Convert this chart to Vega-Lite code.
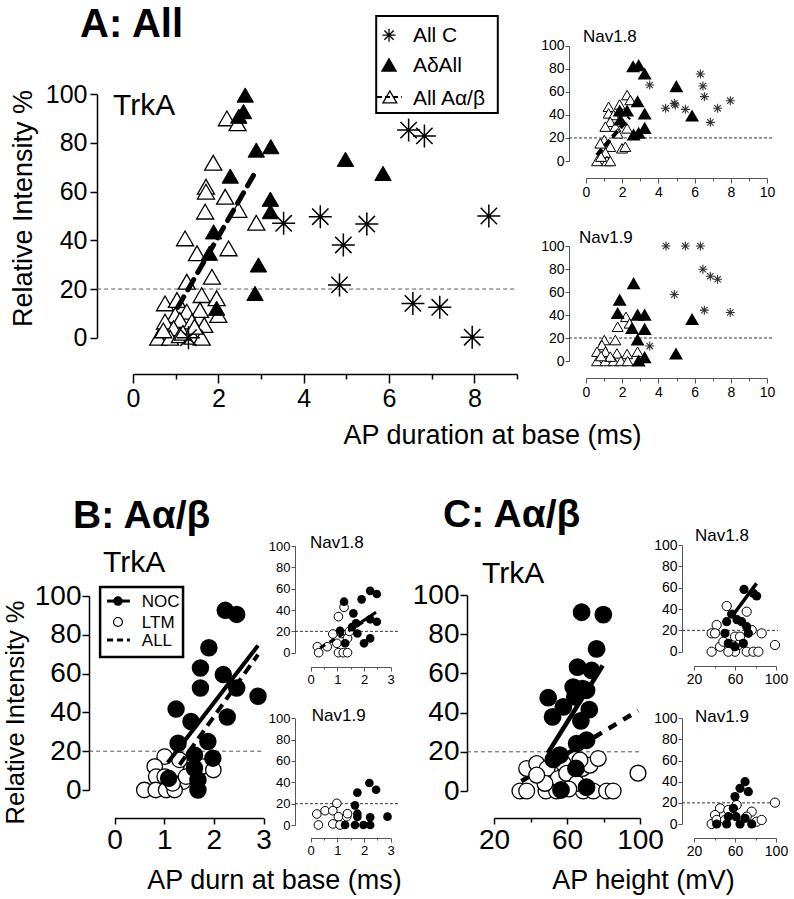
{
"$schema": "https://vega.github.io/schema/vega-lite/v6.json",
"padding": 0,
"autosize": {"type": "none"},
"background": "white",
"width": 794,
"height": 899,
"config": {
  "view": {"stroke": null},
  "axis": {"grid": false, "labelFont": "Liberation Sans", "titleFont": "Liberation Sans", "labelColor": "black", "titleColor": "black", "domainColor": "black", "tickColor": "black", "titleFontWeight": "normal", "labelFlush": false, "labelOverlap": false, "format": "d"},
  "text": {"font": "Liberation Sans", "color": "black"}
},
"resolve": {"scale": {"x": "independent", "y": "independent"}, "axis": {"x": "independent", "y": "independent"}},
"datasets": {
  "A": [
    {"x":2.63,"y":99.7,"g":"Ad"},{"x":2.59,"y":92.9,"g":"Ad"},{"x":2.48,"y":91,"g":"Ad"},{"x":2.89,"y":77.1,"g":"Ad"},{"x":3.23,"y":78.5,"g":"Ad"},{"x":2.28,"y":66.4,"g":"Ad"},{"x":4.98,"y":73.3,"g":"Ad"},{"x":5.86,"y":67.5,"g":"Ad"},{"x":3.22,"y":56.9,"g":"Ad"},{"x":3.22,"y":51.8,"g":"Ad"},{"x":1.89,"y":43.5,"g":"Ad"},{"x":1.79,"y":34.7,"g":"Ad"},{"x":2.94,"y":29.9,"g":"Ad"},{"x":2.86,"y":18.2,"g":"Ad"},{"x":1.96,"y":12.1,"g":"Ad"},
    {"x":2.2,"y":90.1,"g":"Ab"},{"x":2.45,"y":88.1,"g":"Ab"},{"x":1.88,"y":71.9,"g":"Ab"},{"x":1.71,"y":62,"g":"Ab"},{"x":1.71,"y":60,"g":"Ab"},{"x":2.16,"y":57.9,"g":"Ab"},{"x":2.47,"y":52.5,"g":"Ab"},{"x":1.69,"y":51.8,"g":"Ab"},{"x":2.89,"y":47.2,"g":"Ab"},{"x":1.22,"y":40.8,"g":"Ab"},{"x":1.5,"y":34.7,"g":"Ab"},{"x":2.24,"y":36.7,"g":"Ab"},{"x":1.26,"y":23,"g":"Ab"},{"x":1.85,"y":25,"g":"Ab"},{"x":1.61,"y":17.5,"g":"Ab"},{"x":1.96,"y":16.2,"g":"Ab"},{"x":0.75,"y":14.1,"g":"Ab"},{"x":1.03,"y":15.5,"g":"Ab"},{"x":1.57,"y":11.4,"g":"Ab"},{"x":1.26,"y":10.7,"g":"Ab"},{"x":2.0,"y":9.3,"g":"Ab"},{"x":0.99,"y":9.3,"g":"Ab"},{"x":0.75,"y":6.6,"g":"Ab"},{"x":1.1,"y":7.3,"g":"Ab"},{"x":1.38,"y":6.6,"g":"Ab"},{"x":1.67,"y":5.2,"g":"Ab"},{"x":0.95,"y":3.9,"g":"Ab"},{"x":0.59,"y":0,"g":"Ab"},{"x":0.87,"y":0,"g":"Ab"},{"x":1.1,"y":1,"g":"Ab"},{"x":1.4,"y":0.4,"g":"Ab"},{"x":1.61,"y":0,"g":"Ab"},{"x":0.71,"y":3,"g":"Ab"},{"x":1.17,"y":2,"g":"Ab"},{"x":1.44,"y":4.5,"g":"Ab"},
    {"x":3.53,"y":47,"g":"C"},{"x":4.39,"y":49.7,"g":"C"},{"x":5.48,"y":46.7,"g":"C"},{"x":4.93,"y":38.1,"g":"C"},{"x":4.84,"y":21.7,"g":"C"},{"x":6.46,"y":85.3,"g":"C"},{"x":6.83,"y":82.9,"g":"C"},{"x":8.34,"y":50,"g":"C"},{"x":6.56,"y":14.1,"g":"C"},{"x":7.19,"y":12.5,"g":"C"},{"x":7.95,"y":0.2,"g":"C"},{"x":1.3,"y":0,"g":"C"}
  ],
  "Aline": [{"x":1.05,"y":12.5},{"x":2.9,"y":69}],
  "A18": [
    {"x":2.6,"y":81.8,"g":"Ad"},{"x":2.91,"y":82.7,"g":"Ad"},{"x":3.24,"y":75.4,"g":"Ad"},{"x":4.99,"y":64.5,"g":"Ad"},{"x":5.86,"y":39,"g":"Ad"},{"x":1.86,"y":43.4,"g":"Ad"},{"x":2.27,"y":43.4,"g":"Ad"},{"x":2.85,"y":51.4,"g":"Ad"},{"x":3.24,"y":40.8,"g":"Ad"},{"x":3.24,"y":28.3,"g":"Ad"},{"x":2.91,"y":24,"g":"Ad"},{"x":2.63,"y":22.5,"g":"Ad"},{"x":1.9,"y":35.5,"g":"Ad"},
    {"x":1.25,"y":47,"g":"Ab"},{"x":1.25,"y":41.3,"g":"Ab"},{"x":2.27,"y":57.2,"g":"Ab"},{"x":2.45,"y":52.9,"g":"Ab"},{"x":1.86,"y":49,"g":"Ab"},{"x":1.53,"y":39.9,"g":"Ab"},{"x":1.34,"y":34,"g":"Ab"},{"x":1.07,"y":29.8,"g":"Ab"},{"x":1.62,"y":29.8,"g":"Ab"},{"x":2.27,"y":28.3,"g":"Ab"},{"x":1.75,"y":24,"g":"Ab"},{"x":1.01,"y":18.2,"g":"Ab"},{"x":0.79,"y":15.3,"g":"Ab"},{"x":1.34,"y":12.4,"g":"Ab"},{"x":1.99,"y":11,"g":"Ab"},{"x":2.17,"y":12.4,"g":"Ab"},{"x":1.07,"y":7.2,"g":"Ab"},{"x":0.61,"y":0,"g":"Ab"},{"x":1.16,"y":0,"g":"Ab"},{"x":1.34,"y":0,"g":"Ab"},{"x":0.83,"y":3.8,"g":"Ab"},
    {"x":3.52,"y":65.9,"g":"C"},{"x":4.4,"y":45.7,"g":"C"},{"x":4.88,"y":50,"g":"C"},{"x":4.93,"y":48.6,"g":"C"},{"x":5.49,"y":44.8,"g":"C"},{"x":6.32,"y":75.4,"g":"C"},{"x":6.46,"y":65,"g":"C"},{"x":6.54,"y":55.8,"g":"C"},{"x":6.87,"y":33.5,"g":"C"},{"x":7.27,"y":45.7,"g":"C"},{"x":7.97,"y":52.3,"g":"C"}
  ],
  "A18line": [{"x":0.6,"y":5},{"x":2.4,"y":38}],
  "A19": [
    {"x":4.42,"y":100,"g":"C"},{"x":5.49,"y":100,"g":"C"},{"x":6.32,"y":100,"g":"C"},{"x":6.46,"y":79.8,"g":"C"},{"x":6.87,"y":73.7,"g":"C"},{"x":7.27,"y":71.1,"g":"C"},{"x":4.88,"y":57.8,"g":"C"},{"x":6.54,"y":44.2,"g":"C"},{"x":7.97,"y":42.2,"g":"C"},{"x":3.52,"y":13,"g":"C"},
    {"x":2.63,"y":67.3,"g":"Ad"},{"x":1.86,"y":52.9,"g":"Ad"},{"x":1.75,"y":41.3,"g":"Ad"},{"x":2.85,"y":39.9,"g":"Ad"},{"x":3.24,"y":39.9,"g":"Ad"},{"x":2.54,"y":28.3,"g":"Ad"},{"x":3.24,"y":27.5,"g":"Ad"},{"x":2.85,"y":18.2,"g":"Ad"},{"x":4.97,"y":6.1,"g":"Ad"},{"x":5.86,"y":36.1,"g":"Ad"},{"x":3.24,"y":2.9,"g":"Ad"},{"x":2.91,"y":0,"g":"Ad"},
    {"x":2.21,"y":38.4,"g":"Ab"},{"x":2.41,"y":32.7,"g":"Ab"},{"x":1.75,"y":29.8,"g":"Ab"},{"x":2.85,"y":8.1,"g":"Ab"},{"x":1.01,"y":18.2,"g":"Ab"},{"x":0.88,"y":13.9,"g":"Ab"},{"x":1.62,"y":18.2,"g":"Ab"},{"x":0.61,"y":8.1,"g":"Ab"},{"x":1.07,"y":8.1,"g":"Ab"},{"x":1.71,"y":6.6,"g":"Ab"},{"x":2.27,"y":6.1,"g":"Ab"},{"x":0.61,"y":0,"g":"Ab"},{"x":1.07,"y":0,"g":"Ab"},{"x":1.53,"y":0,"g":"Ab"},{"x":1.93,"y":0,"g":"Ab"},{"x":2.3,"y":0,"g":"Ab"},{"x":1.34,"y":3.8,"g":"Ab"},{"x":0.83,"y":4.3,"g":"Ab"}
  ],
  "B": [
    {"x":2.23,"y":92.6,"g":"NOC"},{"x":2.46,"y":90.5,"g":"NOC"},{"x":1.9,"y":73.3,"g":"NOC"},{"x":1.73,"y":62.9,"g":"NOC"},{"x":1.73,"y":52.6,"g":"NOC"},{"x":2.19,"y":59.5,"g":"NOC"},{"x":2.46,"y":52.6,"g":"NOC"},{"x":2.89,"y":48.3,"g":"NOC"},{"x":1.24,"y":41.7,"g":"NOC"},{"x":1.54,"y":35.3,"g":"NOC"},{"x":2.27,"y":37.6,"g":"NOC"},{"x":1.28,"y":24.1,"g":"NOC"},{"x":1.88,"y":25,"g":"NOC"},{"x":1.98,"y":16.4,"g":"NOC"},{"x":1.61,"y":18.1,"g":"NOC"},{"x":1.61,"y":11.2,"g":"NOC"},{"x":1.68,"y":5.2,"g":"NOC"},{"x":1.68,"y":0,"g":"NOC"},{"x":1.09,"y":6,"g":"NOC"},
    {"x":1.01,"y":17.2,"g":"LTM"},{"x":0.81,"y":12.1,"g":"LTM"},{"x":1.31,"y":15.5,"g":"LTM"},{"x":1.54,"y":10.3,"g":"LTM"},{"x":1.78,"y":12.1,"g":"LTM"},{"x":1.99,"y":10.3,"g":"LTM"},{"x":0.84,"y":6.9,"g":"LTM"},{"x":1.01,"y":6.9,"g":"LTM"},{"x":1.38,"y":4.3,"g":"LTM"},{"x":0.6,"y":0,"g":"LTM"},{"x":0.83,"y":0,"g":"LTM"},{"x":1.04,"y":0,"g":"LTM"},{"x":1.21,"y":0,"g":"LTM"},{"x":1.17,"y":3.4,"g":"LTM"},{"x":1.44,"y":6.9,"g":"LTM"}
  ],
  "Bline": [{"x":1.07,"y":14,"g":"NOC"},{"x":2.89,"y":74.5,"g":"NOC"},{"x":1.31,"y":13,"g":"ALL"},{"x":2.89,"y":69.8,"g":"ALL"}],
  "B18": [
    {"x":1.25,"y":47.8,"g":"NOC"},{"x":1.91,"y":50,"g":"NOC"},{"x":2.23,"y":58,"g":"NOC"},{"x":2.48,"y":55,"g":"NOC"},{"x":1.6,"y":36.9,"g":"NOC"},{"x":1.7,"y":27.5,"g":"NOC"},{"x":1.1,"y":20.6,"g":"NOC"},{"x":1.75,"y":18,"g":"NOC"},{"x":2.0,"y":8.8,"g":"NOC"},{"x":2.23,"y":13.4,"g":"NOC"},{"x":1.29,"y":8.8,"g":"NOC"},{"x":2.48,"y":29,"g":"NOC"},{"x":2.23,"y":31.3,"g":"NOC"},{"x":1.55,"y":24,"g":"NOC"},
    {"x":1.04,"y":33.8,"g":"LTM"},{"x":1.25,"y":42.5,"g":"LTM"},{"x":0.83,"y":17.5,"g":"LTM"},{"x":1.16,"y":18,"g":"LTM"},{"x":0.25,"y":5.6,"g":"LTM"},{"x":0.62,"y":5.6,"g":"LTM"},{"x":0.3,"y":0,"g":"LTM"},{"x":1.04,"y":0,"g":"LTM"},{"x":1.22,"y":0,"g":"LTM"},{"x":1.38,"y":0,"g":"LTM"},{"x":1.38,"y":13.4,"g":"LTM"},{"x":0.98,"y":8.8,"g":"LTM"},{"x":1.45,"y":20,"g":"LTM"}
  ],
  "B18line": [{"x":0.35,"y":4.5,"g":"ALL"},{"x":2.45,"y":36,"g":"ALL"},{"x":1.5,"y":22,"g":"NOC"},{"x":2.45,"y":38,"g":"NOC"}],
  "B19": [
    {"x":2.2,"y":39.4,"g":"NOC"},{"x":2.45,"y":33,"g":"NOC"},{"x":1.75,"y":30.3,"g":"NOC"},{"x":1.66,"y":18.4,"g":"NOC"},{"x":1.75,"y":10.6,"g":"NOC"},{"x":2.88,"y":7.8,"g":"NOC"},{"x":1.29,"y":0,"g":"NOC"},{"x":1.66,"y":0,"g":"NOC"},{"x":1.98,"y":0,"g":"NOC"},{"x":2.23,"y":0,"g":"NOC"},{"x":2.23,"y":7.2,"g":"NOC"},{"x":1.75,"y":7.5,"g":"NOC"},
    {"x":0.98,"y":20.3,"g":"LTM"},{"x":0.23,"y":10.3,"g":"LTM"},{"x":0.54,"y":13.4,"g":"LTM"},{"x":0.83,"y":13.4,"g":"LTM"},{"x":1.04,"y":7.8,"g":"LTM"},{"x":1.35,"y":7.8,"g":"LTM"},{"x":0.29,"y":0,"g":"LTM"},{"x":0.83,"y":1,"g":"LTM"},{"x":1.1,"y":0,"g":"LTM"},{"x":1.38,"y":10.6,"g":"LTM"}
  ],
  "C": [
    {"x":68,"y":91.2,"g":"NOC"},{"x":79.9,"y":90,"g":"NOC"},{"x":76.2,"y":72.5,"g":"NOC"},{"x":65.8,"y":63.2,"g":"NOC"},{"x":73.5,"y":61.5,"g":"NOC"},{"x":63.4,"y":53,"g":"NOC"},{"x":68.5,"y":52.2,"g":"NOC"},{"x":70.7,"y":51.4,"g":"NOC"},{"x":64.3,"y":48,"g":"NOC"},{"x":49.7,"y":47.6,"g":"NOC"},{"x":58,"y":42.9,"g":"NOC"},{"x":52.1,"y":37.8,"g":"NOC"},{"x":72.2,"y":41.5,"g":"NOC"},{"x":67.6,"y":35.8,"g":"NOC"},{"x":65.3,"y":24.2,"g":"NOC"},{"x":70.7,"y":25.9,"g":"NOC"},{"x":56.1,"y":18.3,"g":"NOC"},{"x":52.5,"y":16.1,"g":"NOC"},{"x":64.9,"y":11.5,"g":"NOC"},{"x":70.7,"y":1.9,"g":"NOC"},{"x":56.7,"y":0.5,"g":"NOC"},
    {"x":34.2,"y":0,"g":"LTM"},{"x":37.9,"y":0,"g":"LTM"},{"x":48.5,"y":0,"g":"LTM"},{"x":54.3,"y":0,"g":"LTM"},{"x":68.9,"y":0,"g":"LTM"},{"x":74.4,"y":0,"g":"LTM"},{"x":81.7,"y":0,"g":"LTM"},{"x":85.3,"y":0,"g":"LTM"},{"x":37.9,"y":11.5,"g":"LTM"},{"x":43.4,"y":14,"g":"LTM"},{"x":49.1,"y":11.5,"g":"LTM"},{"x":55.2,"y":6.4,"g":"LTM"},{"x":58,"y":14,"g":"LTM"},{"x":47.9,"y":3.9,"g":"LTM"},{"x":43.4,"y":8.1,"g":"LTM"},{"x":59.8,"y":9,"g":"LTM"},{"x":65.3,"y":3.9,"g":"LTM"},{"x":68.5,"y":11.5,"g":"LTM"},{"x":72.6,"y":13.2,"g":"LTM"},{"x":77.1,"y":16.6,"g":"LTM"},{"x":67.1,"y":15.8,"g":"LTM"},{"x":98.9,"y":9.1,"g":"LTM"},{"x":61,"y":1,"g":"LTM"}
  ],
  "Cline": [{"x":49.5,"y":19.4,"g":"NOC"},{"x":79.6,"y":64,"g":"NOC"},{"x":35,"y":5,"g":"ALL"},{"x":99,"y":41,"g":"ALL"}],
  "C18": [
    {"x":68.8,"y":58.4,"g":"NOC"},{"x":77.9,"y":54.7,"g":"NOC"},{"x":81.1,"y":52.2,"g":"NOC"},{"x":56.7,"y":35.3,"g":"NOC"},{"x":51.9,"y":28.1,"g":"NOC"},{"x":66.5,"y":28.1,"g":"NOC"},{"x":71.4,"y":23.4,"g":"NOC"},{"x":73,"y":17.2,"g":"NOC"},{"x":68.1,"y":7.8,"g":"NOC"},{"x":53.5,"y":7.8,"g":"NOC"},{"x":60,"y":4.7,"g":"NOC"},{"x":50.2,"y":17.2,"g":"NOC"},{"x":62,"y":30,"g":"NOC"},
    {"x":51.9,"y":42.8,"g":"LTM"},{"x":71.4,"y":37.5,"g":"LTM"},{"x":42.1,"y":25,"g":"LTM"},{"x":37.2,"y":17.2,"g":"LTM"},{"x":40.5,"y":17.2,"g":"LTM"},{"x":86,"y":17.2,"g":"LTM"},{"x":99,"y":6.3,"g":"LTM"},{"x":37.2,"y":0,"g":"LTM"},{"x":45.4,"y":4.7,"g":"LTM"},{"x":48.6,"y":9.4,"g":"LTM"},{"x":60,"y":0,"g":"LTM"},{"x":71.4,"y":0,"g":"LTM"},{"x":77.9,"y":0,"g":"LTM"},{"x":82.8,"y":0,"g":"LTM"},{"x":60,"y":14.1,"g":"LTM"},{"x":64.9,"y":14.1,"g":"LTM"},{"x":76.3,"y":20.3,"g":"LTM"},{"x":53.5,"y":0,"g":"LTM"},{"x":63.3,"y":6.3,"g":"LTM"}
  ],
  "C18line": [{"x":57,"y":33},{"x":81,"y":64}],
  "C19": [
    {"x":69.8,"y":40,"g":"NOC"},{"x":64.9,"y":33.8,"g":"NOC"},{"x":73,"y":30.6,"g":"NOC"},{"x":60,"y":25.9,"g":"NOC"},{"x":58.4,"y":14.8,"g":"NOC"},{"x":53.5,"y":6.9,"g":"NOC"},{"x":42.1,"y":0,"g":"NOC"},{"x":51.9,"y":0,"g":"NOC"},{"x":64.9,"y":0,"g":"NOC"},{"x":76.3,"y":0,"g":"NOC"},{"x":69.8,"y":5.4,"g":"NOC"},{"x":61,"y":6.9,"g":"NOC"},
    {"x":99,"y":20.2,"g":"LTM"},{"x":45.4,"y":14.8,"g":"LTM"},{"x":40.5,"y":8.5,"g":"LTM"},{"x":37.2,"y":0,"g":"LTM"},{"x":42.1,"y":3.8,"g":"LTM"},{"x":53.5,"y":13.2,"g":"LTM"},{"x":61.6,"y":18,"g":"LTM"},{"x":76.3,"y":11.7,"g":"LTM"},{"x":81.1,"y":2.2,"g":"LTM"},{"x":86,"y":3.8,"g":"LTM"},{"x":50.2,"y":3.8,"g":"LTM"},{"x":71.4,"y":6.9,"g":"LTM"}
  ]
},
"layer": [
  {"layer": [
    {"data": {"values": [{}]}, "mark": {"type": "rule", "stroke": "#555", "strokeDash": [4, 3], "strokeWidth": 1},
     "encoding": {
       "x": {"datum": -0.84, "type": "quantitative", "scale": {"domain": [0, 9], "range": [133, 517], "nice": false, "zero": false},
             "axis": {"title": "AP duration at base (ms)", "orient": "bottom", "offset": -525, "values": [0,1,2,3,4,5,6,7,8,9], "labelExpr": "datum.value % 2 ? '' : datum.label", "tickSize": {"condition": {"test": "datum.value % 2 === 0", "value": 9}, "value": 5}, "labelFontSize": 25, "labelPadding": 3, "domainWidth": 1.5, "tickWidth": 1.5, "titleFontSize": 27, "titleX": 492, "titleY": 69, "titleAlign": "center", "titleBaseline": "alphabetic"}},
       "x2": {"datum": 9},
       "y": {"datum": 20, "type": "quantitative", "scale": {"domain": [0, 100], "range": [337.7, 94.3], "nice": false, "zero": false},
             "axis": {"title": "Relative Intensity %", "orient": "left", "offset": -97, "values": [0,20,40,60,80,100], "tickSize": 7, "labelFontSize": 25, "labelPadding": 3, "domainWidth": 1.5, "tickWidth": 1.5, "titleFontSize": 27, "titleX": -65.5, "titleY": 208, "titleAngle": 270, "titleAlign": "center", "titleBaseline": "alphabetic"}}}},
    {"data": {"name": "A"}, "transform": [{"filter": "datum.g === 'Ab'"}], "mark": {"type": "point", "shape": "triangle-up", "filled": true, "fill": "white", "stroke": "black", "strokeWidth": 1.3, "size": 290, "opacity": 1},
     "encoding": {"x": {"field": "x", "type": "quantitative"}, "y": {"field": "y", "type": "quantitative"}}},
    {"data": {"name": "A"}, "transform": [{"filter": "datum.g === 'Ad'"}], "mark": {"type": "point", "shape": "triangle-up", "filled": true, "fill": "black", "stroke": "black", "strokeWidth": 1, "size": 270, "opacity": 1},
     "encoding": {"x": {"field": "x", "type": "quantitative"}, "y": {"field": "y", "type": "quantitative"}}},
    {"data": {"name": "A"}, "transform": [{"filter": "datum.g === 'C'"}], "mark": {"type": "point", "shape": "M0,-1L0,1M-1,0L1,0M-0.71,-0.71L0.71,0.71M-0.71,0.71L0.71,-0.71", "filled": false, "stroke": "black", "strokeWidth": 1.5, "size": 529, "opacity": 1},
     "encoding": {"x": {"field": "x", "type": "quantitative"}, "y": {"field": "y", "type": "quantitative"}}},
    {"data": {"name": "Aline"}, "mark": {"type": "line", "color": "black", "strokeWidth": 5, "strokeDash": [12, 8], "strokeCap": "round"},
     "encoding": {"x": {"field": "x", "type": "quantitative"}, "y": {"field": "y", "type": "quantitative"}}},
    {"data": {"values": [{}]}, "mark": {"type": "rect", "fill": "white", "stroke": "black", "strokeWidth": 2},
     "encoding": {"x": {"datum": 5.7, "type": "quantitative"}, "x2": {"datum": 8.55}, "y": {"datum": 132.2, "type": "quantitative"}, "y2": {"datum": 92.3}}},
    {"data": {"values": [{}]}, "mark": {"type": "point", "shape": "M0,-1L0,1M-1,0L1,0M-0.71,-0.71L0.71,0.71M-0.71,0.71L0.71,-0.71", "filled": false, "stroke": "black", "strokeWidth": 1.3, "size": 169, "opacity": 1},
     "encoding": {"x": {"datum": 6.0, "type": "quantitative"}, "y": {"datum": 124.3, "type": "quantitative"}}},
    {"data": {"values": [{}]}, "mark": {"type": "point", "shape": "triangle-up", "filled": true, "fill": "black", "stroke": "black", "size": 170, "opacity": 1},
     "encoding": {"x": {"datum": 6.0, "type": "quantitative"}, "y": {"datum": 112, "type": "quantitative"}}},
    {"data": {"values": [{}]}, "mark": {"type": "point", "shape": "triangle-up", "filled": true, "fill": "white", "stroke": "black", "strokeWidth": 1.3, "size": 190, "opacity": 1},
     "encoding": {"x": {"datum": 6.02, "type": "quantitative"}, "y": {"datum": 98.9, "type": "quantitative"}}},
    {"data": {"values": [{}]}, "mark": {"type": "rule", "stroke": "black", "strokeWidth": 2, "strokeDash": [5, 3]},
     "encoding": {"x": {"datum": 5.72, "type": "quantitative"}, "x2": {"datum": 6.3}, "y": {"datum": 98.9, "type": "quantitative"}}},
    {"data": {"values": [{}]}, "mark": {"type": "text", "text": "All C", "fontSize": 21, "align": "left", "baseline": "alphabetic"},
     "encoding": {"x": {"datum": 6.56, "type": "quantitative"}, "y": {"datum": 121.3, "type": "quantitative"}}},
    {"data": {"values": [{}]}, "mark": {"type": "text", "text": "AδAll", "fontSize": 21, "align": "left", "baseline": "alphabetic"},
     "encoding": {"x": {"datum": 6.56, "type": "quantitative"}, "y": {"datum": 109, "type": "quantitative"}}},
    {"data": {"values": [{}]}, "mark": {"type": "text", "text": "All Aα/β", "fontSize": 21, "align": "left", "baseline": "alphabetic"},
     "encoding": {"x": {"datum": 6.56, "type": "quantitative"}, "y": {"datum": 95.8, "type": "quantitative"}}},
    {"data": {"values": [{}]}, "mark": {"type": "text", "text": "A: All", "fontSize": 40, "fontWeight": "bold", "align": "left", "baseline": "alphabetic"},
     "encoding": {"x": {"datum": -1.24, "type": "quantitative"}, "y": {"datum": 123.5, "type": "quantitative"}}},
    {"data": {"values": [{}]}, "mark": {"type": "text", "text": "TrkA", "fontSize": 30, "align": "left", "baseline": "alphabetic"},
     "encoding": {"x": {"datum": -0.47, "type": "quantitative"}, "y": {"datum": 91.5, "type": "quantitative"}}}
  ]},
  {"layer": [
    {"data": {"values": [{}]}, "mark": {"type": "rule", "stroke": "#333", "strokeDash": [3, 2], "strokeWidth": 1},
     "encoding": {
       "x": {"datum": -0.94, "type": "quantitative", "scale": {"domain": [0, 10], "range": [586, 767], "nice": false, "zero": false},
             "axis": {"title": null, "orient": "bottom", "offset": -721, "values": [0,1,2,3,4,5,6,7,8,9,10], "labelExpr": "datum.value % 2 ? '' : datum.label", "tickSize": {"condition": {"test": "datum.value % 2 === 0", "value": 5}, "value": 3}, "labelFontSize": 14, "labelPadding": 2, "domainColor": "#555", "tickColor": "#555"}},
       "x2": {"datum": 10.3},
       "y": {"datum": 20, "type": "quantitative", "scale": {"domain": [0, 100], "range": [161, 45.7], "nice": false, "zero": false},
             "axis": {"title": null, "orient": "left", "offset": -569, "values": [0,20,40,60,80,100], "tickSize": 4, "labelFontSize": 14, "labelPadding": 1, "domainColor": "#555", "tickColor": "#555"}}}},
    {"data": {"name": "A18"}, "transform": [{"filter": "datum.g === 'Ab'"}], "mark": {"type": "point", "shape": "triangle-up", "filled": true, "fill": "white", "stroke": "black", "strokeWidth": 1, "size": 120, "opacity": 1},
     "encoding": {"x": {"field": "x", "type": "quantitative"}, "y": {"field": "y", "type": "quantitative"}}},
    {"data": {"name": "A18"}, "transform": [{"filter": "datum.g === 'Ad'"}], "mark": {"type": "point", "shape": "triangle-up", "filled": true, "fill": "black", "stroke": "black", "size": 110, "opacity": 1},
     "encoding": {"x": {"field": "x", "type": "quantitative"}, "y": {"field": "y", "type": "quantitative"}}},
    {"data": {"name": "A18"}, "transform": [{"filter": "datum.g === 'C'"}], "mark": {"type": "point", "shape": "M0,-1L0,1M-1,0L1,0M-0.71,-0.71L0.71,0.71M-0.71,0.71L0.71,-0.71", "filled": false, "stroke": "#333", "strokeWidth": 1.1, "size": 81, "opacity": 1},
     "encoding": {"x": {"field": "x", "type": "quantitative"}, "y": {"field": "y", "type": "quantitative"}}},
    {"data": {"name": "A18line"}, "mark": {"type": "line", "color": "black", "strokeWidth": 4, "strokeDash": [8, 4]},
     "encoding": {"x": {"field": "x", "type": "quantitative"}, "y": {"field": "y", "type": "quantitative"}}},
    {"data": {"values": [{}]}, "mark": {"type": "text", "text": "Nav1.8", "fontSize": 17, "align": "left", "baseline": "alphabetic"},
     "encoding": {"x": {"datum": -0.17, "type": "quantitative"}, "y": {"datum": 103.2, "type": "quantitative"}}}
  ]},
  {"layer": [
    {"data": {"values": [{}]}, "mark": {"type": "rule", "stroke": "#333", "strokeDash": [3, 2], "strokeWidth": 1},
     "encoding": {
       "x": {"datum": -0.94, "type": "quantitative", "scale": {"domain": [0, 10], "range": [586, 767], "nice": false, "zero": false},
             "axis": {"title": null, "orient": "bottom", "offset": -521, "values": [0,1,2,3,4,5,6,7,8,9,10], "labelExpr": "datum.value % 2 ? '' : datum.label", "tickSize": {"condition": {"test": "datum.value % 2 === 0", "value": 5}, "value": 3}, "labelFontSize": 14, "labelPadding": 2, "domainColor": "#555", "tickColor": "#555"}},
       "x2": {"datum": 10.3},
       "y": {"datum": 20, "type": "quantitative", "scale": {"domain": [0, 100], "range": [361, 246], "nice": false, "zero": false},
             "axis": {"title": null, "orient": "left", "offset": -569, "values": [0,20,40,60,80,100], "tickSize": 4, "labelFontSize": 14, "labelPadding": 1, "domainColor": "#555", "tickColor": "#555"}}}},
    {"data": {"name": "A19"}, "transform": [{"filter": "datum.g === 'Ab'"}], "mark": {"type": "point", "shape": "triangle-up", "filled": true, "fill": "white", "stroke": "black", "strokeWidth": 1, "size": 120, "opacity": 1},
     "encoding": {"x": {"field": "x", "type": "quantitative"}, "y": {"field": "y", "type": "quantitative"}}},
    {"data": {"name": "A19"}, "transform": [{"filter": "datum.g === 'Ad'"}], "mark": {"type": "point", "shape": "triangle-up", "filled": true, "fill": "black", "stroke": "black", "size": 110, "opacity": 1},
     "encoding": {"x": {"field": "x", "type": "quantitative"}, "y": {"field": "y", "type": "quantitative"}}},
    {"data": {"name": "A19"}, "transform": [{"filter": "datum.g === 'C'"}], "mark": {"type": "point", "shape": "M0,-1L0,1M-1,0L1,0M-0.71,-0.71L0.71,0.71M-0.71,0.71L0.71,-0.71", "filled": false, "stroke": "#333", "strokeWidth": 1.1, "size": 81, "opacity": 1},
     "encoding": {"x": {"field": "x", "type": "quantitative"}, "y": {"field": "y", "type": "quantitative"}}},
    {"data": {"values": [{}]}, "mark": {"type": "text", "text": "Nav1.9", "fontSize": 17, "align": "left", "baseline": "alphabetic"},
     "encoding": {"x": {"datum": -0.39, "type": "quantitative"}, "y": {"datum": 102.6, "type": "quantitative"}}}
  ]},
  {"layer": [
    {"data": {"values": [{}]}, "mark": {"type": "rule", "stroke": "#555", "strokeDash": [4, 3], "strokeWidth": 1},
     "encoding": {
       "x": {"datum": -0.51, "type": "quantitative", "scale": {"domain": [0, 3], "range": [114.5, 263.5], "nice": false, "zero": false},
             "axis": {"title": "AP durn at base (ms)", "orient": "bottom", "offset": -81, "values": [0,1,2,3], "tickSize": 6, "labelFontSize": 28, "labelPadding": 2, "domainWidth": 1.5, "tickWidth": 1.5, "titleFontSize": 27, "titleX": 274, "titleY": 70, "titleAlign": "center", "titleBaseline": "alphabetic"}},
       "x2": {"datum": 3},
       "y": {"datum": 20, "type": "quantitative", "scale": {"domain": [0, 100], "range": [790, 596], "nice": false, "zero": false},
             "axis": {"title": "Relative Intensity %", "orient": "left", "offset": -89, "values": [0,20,40,60,80,100], "tickSize": 7, "labelFontSize": 28, "labelPadding": 1, "domainWidth": 1.5, "tickWidth": 1.5, "titleFontSize": 25.5, "titleX": -66, "titleY": 712, "titleAngle": 270, "titleAlign": "center", "titleBaseline": "alphabetic"}}}},
    {"data": {"name": "B"}, "transform": [{"filter": "datum.g === 'LTM'"}], "mark": {"type": "point", "shape": "circle", "filled": true, "fill": "white", "stroke": "black", "strokeWidth": 1.3, "size": 240, "opacity": 1},
     "encoding": {"x": {"field": "x", "type": "quantitative"}, "y": {"field": "y", "type": "quantitative"}}},
    {"data": {"name": "B"}, "transform": [{"filter": "datum.g === 'NOC'"}], "mark": {"type": "point", "shape": "circle", "filled": true, "fill": "black", "stroke": "black", "size": 240, "opacity": 1},
     "encoding": {"x": {"field": "x", "type": "quantitative"}, "y": {"field": "y", "type": "quantitative"}}},
    {"data": {"name": "Bline"}, "transform": [{"filter": "datum.g === 'NOC'"}], "mark": {"type": "line", "color": "black", "strokeWidth": 4},
     "encoding": {"x": {"field": "x", "type": "quantitative"}, "y": {"field": "y", "type": "quantitative"}}},
    {"data": {"name": "Bline"}, "transform": [{"filter": "datum.g === 'ALL'"}], "mark": {"type": "line", "color": "black", "strokeWidth": 4, "strokeDash": [10, 6]},
     "encoding": {"x": {"field": "x", "type": "quantitative"}, "y": {"field": "y", "type": "quantitative"}}},
    {"data": {"values": [{}]}, "mark": {"type": "rect", "fill": "white", "stroke": "black", "strokeWidth": 2.5},
     "encoding": {"x": {"datum": -0.29, "type": "quantitative"}, "x2": {"datum": 1.38}, "y": {"datum": 104.6, "type": "quantitative"}, "y2": {"datum": 68.6}}},
    {"data": {"values": [{}]}, "mark": {"type": "rule", "stroke": "black", "strokeWidth": 3},
     "encoding": {"x": {"datum": -0.15, "type": "quantitative"}, "x2": {"datum": 0.31}, "y": {"datum": 97.4, "type": "quantitative"}}},
    {"data": {"values": [{}]}, "mark": {"type": "point", "shape": "circle", "filled": true, "fill": "black", "size": 90, "opacity": 1},
     "encoding": {"x": {"datum": 0.07, "type": "quantitative"}, "y": {"datum": 97.4, "type": "quantitative"}}},
    {"data": {"values": [{}]}, "mark": {"type": "point", "shape": "circle", "filled": true, "fill": "white", "stroke": "black", "strokeWidth": 1.2, "size": 80, "opacity": 1},
     "encoding": {"x": {"datum": 0.07, "type": "quantitative"}, "y": {"datum": 86.6, "type": "quantitative"}}},
    {"data": {"values": [{}]}, "mark": {"type": "rule", "stroke": "black", "strokeWidth": 3, "strokeDash": [6, 4]},
     "encoding": {"x": {"datum": -0.15, "type": "quantitative"}, "x2": {"datum": 0.31}, "y": {"datum": 77.3, "type": "quantitative"}}},
    {"data": {"values": [{}]}, "mark": {"type": "text", "text": "NOC", "fontSize": 17, "align": "left", "baseline": "alphabetic"},
     "encoding": {"x": {"datum": 0.55, "type": "quantitative"}, "y": {"datum": 94.3, "type": "quantitative"}}},
    {"data": {"values": [{}]}, "mark": {"type": "text", "text": "LTM", "fontSize": 17, "align": "left", "baseline": "alphabetic"},
     "encoding": {"x": {"datum": 0.55, "type": "quantitative"}, "y": {"datum": 83.5, "type": "quantitative"}}},
    {"data": {"values": [{}]}, "mark": {"type": "text", "text": "ALL", "fontSize": 17, "align": "left", "baseline": "alphabetic"},
     "encoding": {"x": {"datum": 0.55, "type": "quantitative"}, "y": {"datum": 74.2, "type": "quantitative"}}},
    {"data": {"values": [{}]}, "mark": {"type": "text", "text": "B: Aα/β", "fontSize": 39, "fontWeight": "bold", "align": "left", "baseline": "alphabetic"},
     "encoding": {"x": {"datum": -0.835, "type": "quantitative"}, "y": {"datum": 135, "type": "quantitative"}}},
    {"data": {"values": [{}]}, "mark": {"type": "text", "text": "TrkA", "fontSize": 30, "align": "left", "baseline": "alphabetic"},
     "encoding": {"x": {"datum": -0.23, "type": "quantitative"}, "y": {"datum": 112.4, "type": "quantitative"}}}
  ]},
  {"layer": [
    {"data": {"values": [{}]}, "mark": {"type": "rule", "stroke": "#333", "strokeDash": [3, 2], "strokeWidth": 1},
     "encoding": {
       "x": {"datum": -0.59, "type": "quantitative", "scale": {"domain": [0, 3], "range": [310.7, 390.7], "nice": false, "zero": false},
             "axis": {"title": null, "orient": "bottom", "offset": -232, "values": [0,0.5,1,1.5,2,2.5,3], "labelExpr": "datum.value % 1 ? '' : datum.label", "tickSize": {"condition": {"test": "datum.value % 1 === 0", "value": 4}, "value": 2}, "labelFontSize": 13, "labelPadding": 2, "domainColor": "#555", "tickColor": "#555"}},
       "x2": {"datum": 3.3},
       "y": {"datum": 20, "type": "quantitative", "scale": {"domain": [0, 100], "range": [652.7, 546], "nice": false, "zero": false},
             "axis": {"title": null, "orient": "left", "offset": -295, "values": [0,20,40,60,80,100], "tickSize": 4, "labelFontSize": 13, "labelPadding": 1, "domainColor": "#555", "tickColor": "#555"}}}},
    {"data": {"name": "B18"}, "transform": [{"filter": "datum.g === 'LTM'"}], "mark": {"type": "point", "shape": "circle", "filled": true, "fill": "white", "stroke": "black", "strokeWidth": 1, "size": 75, "opacity": 1},
     "encoding": {"x": {"field": "x", "type": "quantitative"}, "y": {"field": "y", "type": "quantitative"}}},
    {"data": {"name": "B18"}, "transform": [{"filter": "datum.g === 'NOC'"}], "mark": {"type": "point", "shape": "circle", "filled": true, "fill": "black", "size": 75, "opacity": 1},
     "encoding": {"x": {"field": "x", "type": "quantitative"}, "y": {"field": "y", "type": "quantitative"}}},
    {"data": {"name": "B18line"}, "transform": [{"filter": "datum.g === 'ALL'"}], "mark": {"type": "line", "color": "black", "strokeWidth": 3, "strokeDash": [6, 5]},
     "encoding": {"x": {"field": "x", "type": "quantitative"}, "y": {"field": "y", "type": "quantitative"}}},
    {"data": {"name": "B18line"}, "transform": [{"filter": "datum.g === 'NOC'"}], "mark": {"type": "line", "color": "black", "strokeWidth": 3},
     "encoding": {"x": {"field": "x", "type": "quantitative"}, "y": {"field": "y", "type": "quantitative"}}},
    {"data": {"values": [{}]}, "mark": {"type": "text", "text": "Nav1.8", "fontSize": 17, "align": "left", "baseline": "alphabetic"},
     "encoding": {"x": {"datum": -0.03, "type": "quantitative"}, "y": {"datum": 98.1, "type": "quantitative"}}}
  ]},
  {"layer": [
    {"data": {"values": [{}]}, "mark": {"type": "rule", "stroke": "#333", "strokeDash": [3, 2], "strokeWidth": 1},
     "encoding": {
       "x": {"datum": -0.59, "type": "quantitative", "scale": {"domain": [0, 3], "range": [310.7, 390.7], "nice": false, "zero": false},
             "axis": {"title": null, "orient": "bottom", "offset": -61, "values": [0,0.5,1,1.5,2,2.5,3], "labelExpr": "datum.value % 1 ? '' : datum.label", "tickSize": {"condition": {"test": "datum.value % 1 === 0", "value": 4}, "value": 2}, "labelFontSize": 13, "labelPadding": 2, "domainColor": "#555", "tickColor": "#555"}},
       "x2": {"datum": 3.3},
       "y": {"datum": 20, "type": "quantitative", "scale": {"domain": [0, 100], "range": [825, 718.3], "nice": false, "zero": false},
             "axis": {"title": null, "orient": "left", "offset": -295, "values": [0,20,40,60,80,100], "tickSize": 4, "labelFontSize": 13, "labelPadding": 1, "domainColor": "#555", "tickColor": "#555"}}}},
    {"data": {"name": "B19"}, "transform": [{"filter": "datum.g === 'LTM'"}], "mark": {"type": "point", "shape": "circle", "filled": true, "fill": "white", "stroke": "black", "strokeWidth": 1, "size": 75, "opacity": 1},
     "encoding": {"x": {"field": "x", "type": "quantitative"}, "y": {"field": "y", "type": "quantitative"}}},
    {"data": {"name": "B19"}, "transform": [{"filter": "datum.g === 'NOC'"}], "mark": {"type": "point", "shape": "circle", "filled": true, "fill": "black", "size": 75, "opacity": 1},
     "encoding": {"x": {"field": "x", "type": "quantitative"}, "y": {"field": "y", "type": "quantitative"}}},
    {"data": {"values": [{}]}, "mark": {"type": "text", "text": "Nav1.9", "fontSize": 17, "align": "left", "baseline": "alphabetic"},
     "encoding": {"x": {"datum": 0.04, "type": "quantitative"}, "y": {"datum": 97.5, "type": "quantitative"}}}
  ]},
  {"layer": [
    {"data": {"values": [{}]}, "mark": {"type": "rule", "stroke": "#555", "strokeDash": [4, 3], "strokeWidth": 1},
     "encoding": {
       "x": {"datum": 5.2, "type": "quantitative", "scale": {"domain": [20, 100], "range": [494, 640], "nice": false, "zero": false},
             "axis": {"title": "AP height (mV)", "orient": "bottom", "offset": -81, "values": [20,40,60,80,100], "labelExpr": "datum.value % 40 === 20 ? datum.label : ''", "tickSize": {"condition": {"test": "datum.value % 40 === 20", "value": 6}, "value": 4}, "labelFontSize": 28, "labelPadding": 2, "domainWidth": 1.5, "tickWidth": 1.5, "titleFontSize": 27, "titleX": 643, "titleY": 70, "titleAlign": "center", "titleBaseline": "alphabetic"}},
       "x2": {"datum": 100},
       "y": {"datum": 20, "type": "quantitative", "scale": {"domain": [0, 100], "range": [791, 595], "nice": false, "zero": false},
             "axis": {"title": null, "orient": "left", "offset": -467, "values": [0,20,40,60,80,100], "tickSize": 7, "labelFontSize": 28, "labelPadding": 1, "domainWidth": 1.5, "tickWidth": 1.5}}}},
    {"data": {"name": "Cline"}, "transform": [{"filter": "datum.g === 'ALL'"}], "mark": {"type": "line", "color": "black", "strokeWidth": 4.5, "strokeDash": [9, 8]},
     "encoding": {"x": {"field": "x", "type": "quantitative"}, "y": {"field": "y", "type": "quantitative"}}},
    {"data": {"name": "C"}, "transform": [{"filter": "datum.g === 'LTM'"}], "mark": {"type": "point", "shape": "circle", "filled": true, "fill": "white", "stroke": "black", "strokeWidth": 1.3, "size": 250, "opacity": 1},
     "encoding": {"x": {"field": "x", "type": "quantitative"}, "y": {"field": "y", "type": "quantitative"}}},
    {"data": {"name": "C"}, "transform": [{"filter": "datum.g === 'NOC'"}], "mark": {"type": "point", "shape": "circle", "filled": true, "fill": "black", "stroke": "black", "size": 250, "opacity": 1},
     "encoding": {"x": {"field": "x", "type": "quantitative"}, "y": {"field": "y", "type": "quantitative"}}},
    {"data": {"name": "Cline"}, "transform": [{"filter": "datum.g === 'NOC'"}], "mark": {"type": "line", "color": "black", "strokeWidth": 4.5},
     "encoding": {"x": {"field": "x", "type": "quantitative"}, "y": {"field": "y", "type": "quantitative"}}},
    {"data": {"values": [{}]}, "mark": {"type": "text", "text": "C: Aα/β", "fontSize": 39, "fontWeight": "bold", "align": "left", "baseline": "alphabetic"},
     "encoding": {"x": {"datum": -7.95, "type": "quantitative"}, "y": {"datum": 134.7, "type": "quantitative"}}},
    {"data": {"values": [{}]}, "mark": {"type": "text", "text": "TrkA", "fontSize": 30, "align": "left", "baseline": "alphabetic"},
     "encoding": {"x": {"datum": 13.4, "type": "quantitative"}, "y": {"datum": 106, "type": "quantitative"}}}
  ]},
  {"layer": [
    {"data": {"values": [{}]}, "mark": {"type": "rule", "stroke": "#333", "strokeDash": [3, 2], "strokeWidth": 1},
     "encoding": {
       "x": {"datum": 8.3, "type": "quantitative", "scale": {"domain": [20, 100], "range": [694, 776], "nice": false, "zero": false},
             "axis": {"title": null, "orient": "bottom", "offset": -233, "values": [20,40,60,80,100], "labelExpr": "datum.value % 40 === 20 ? datum.label : ''", "tickSize": {"condition": {"test": "datum.value % 40 === 20", "value": 4}, "value": 2}, "labelFontSize": 14, "labelPadding": 2, "domainColor": "#555", "tickColor": "#555"}},
       "x2": {"datum": 102},
       "y": {"datum": 20, "type": "quantitative", "scale": {"domain": [0, 100], "range": [651.7, 545], "nice": false, "zero": false},
             "axis": {"title": null, "orient": "left", "offset": -682, "values": [0,20,40,60,80,100], "tickSize": 4, "labelFontSize": 14, "labelPadding": 1, "domainColor": "#555", "tickColor": "#555"}}}},
    {"data": {"name": "C18"}, "transform": [{"filter": "datum.g === 'LTM'"}], "mark": {"type": "point", "shape": "circle", "filled": true, "fill": "white", "stroke": "black", "strokeWidth": 1, "size": 85, "opacity": 1},
     "encoding": {"x": {"field": "x", "type": "quantitative"}, "y": {"field": "y", "type": "quantitative"}}},
    {"data": {"name": "C18"}, "transform": [{"filter": "datum.g === 'NOC'"}], "mark": {"type": "point", "shape": "circle", "filled": true, "fill": "black", "size": 85, "opacity": 1},
     "encoding": {"x": {"field": "x", "type": "quantitative"}, "y": {"field": "y", "type": "quantitative"}}},
    {"data": {"name": "C18line"}, "mark": {"type": "line", "color": "black", "strokeWidth": 3.5},
     "encoding": {"x": {"field": "x", "type": "quantitative"}, "y": {"field": "y", "type": "quantitative"}}},
    {"data": {"values": [{}]}, "mark": {"type": "text", "text": "Nav1.8", "fontSize": 17, "align": "left", "baseline": "alphabetic"},
     "encoding": {"x": {"datum": 21, "type": "quantitative"}, "y": {"datum": 104, "type": "quantitative"}}}
  ]},
  {"layer": [
    {"data": {"values": [{}]}, "mark": {"type": "rule", "stroke": "#333", "strokeDash": [3, 2], "strokeWidth": 1},
     "encoding": {
       "x": {"datum": 8.3, "type": "quantitative", "scale": {"domain": [20, 100], "range": [694, 776], "nice": false, "zero": false},
             "axis": {"title": null, "orient": "bottom", "offset": -61, "values": [20,40,60,80,100], "labelExpr": "datum.value % 40 === 20 ? datum.label : ''", "tickSize": {"condition": {"test": "datum.value % 40 === 20", "value": 4}, "value": 2}, "labelFontSize": 14, "labelPadding": 2, "domainColor": "#555", "tickColor": "#555"}},
       "x2": {"datum": 102},
       "y": {"datum": 20, "type": "quantitative", "scale": {"domain": [0, 100], "range": [824, 718.3], "nice": false, "zero": false},
             "axis": {"title": null, "orient": "left", "offset": -682, "values": [0,20,40,60,80,100], "tickSize": 4, "labelFontSize": 14, "labelPadding": 1, "domainColor": "#555", "tickColor": "#555"}}}},
    {"data": {"name": "C19"}, "transform": [{"filter": "datum.g === 'LTM'"}], "mark": {"type": "point", "shape": "circle", "filled": true, "fill": "white", "stroke": "black", "strokeWidth": 1, "size": 85, "opacity": 1},
     "encoding": {"x": {"field": "x", "type": "quantitative"}, "y": {"field": "y", "type": "quantitative"}}},
    {"data": {"name": "C19"}, "transform": [{"filter": "datum.g === 'NOC'"}], "mark": {"type": "point", "shape": "circle", "filled": true, "fill": "black", "size": 85, "opacity": 1},
     "encoding": {"x": {"field": "x", "type": "quantitative"}, "y": {"field": "y", "type": "quantitative"}}},
    {"data": {"values": [{}]}, "mark": {"type": "text", "text": "Nav1.9", "fontSize": 17, "align": "left", "baseline": "alphabetic"},
     "encoding": {"x": {"datum": 21, "type": "quantitative"}, "y": {"datum": 96.5, "type": "quantitative"}}}
  ]}
]
}
